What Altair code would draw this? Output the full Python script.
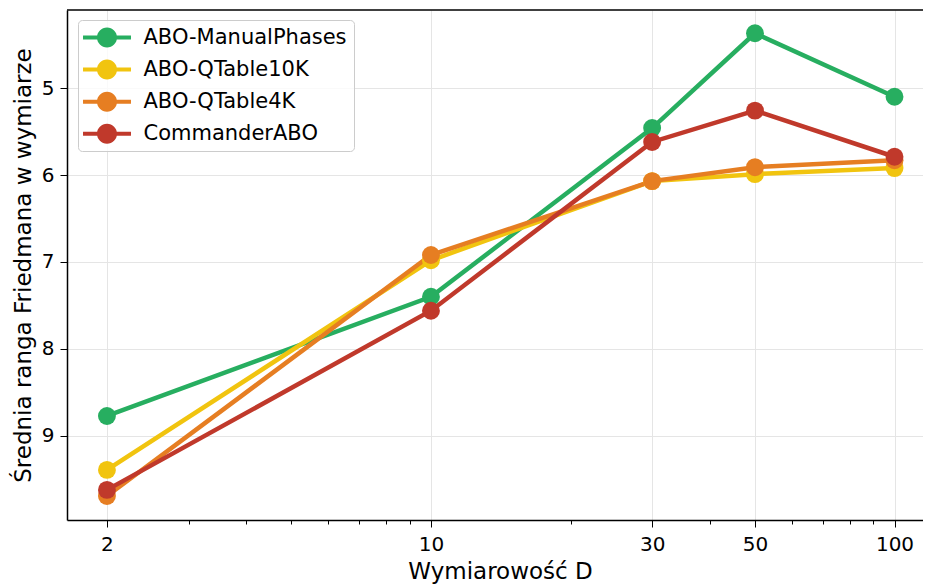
import altair as alt
import pandas as pd

# ---- data ----
dims = [2, 10, 30, 50, 100]
series_names = ["ABO-ManualPhases", "ABO-QTable10K", "ABO-QTable4K", "CommanderABO"]
manual_phases = [8.77, 7.40, 5.46, 4.37, 5.10]
qtable10k = [9.39, 6.98, 6.07, 5.99, 5.92]
qtable4k = [9.69, 6.92, 6.07, 5.91, 5.83]
commander = [9.62, 7.56, 5.62, 5.26, 5.79]
colors = ["#27ae60", "#f1c40f", "#e67e22", "#c0392b"]

x_major = [2, 10, 30, 50, 100]
x_minor = [3, 4, 5, 6, 7, 8, 9, 20, 40, 60, 70, 80, 90]
y_ticks = [5, 6, 7, 8, 9]

values = [manual_phases, qtable10k, qtable4k, commander]
rows = []
for name, vals in zip(series_names, values):
    for d, v in zip(dims, vals):
        rows.append({"series": name, "D": d, "rank": v})
df = pd.DataFrame(rows)

W, H = 856, 510
major_list = "[" + ",".join(str(v) for v in x_major) + "]"
test_minor = f"indexof({major_list}, datum.value) < 0"

xscale = alt.Scale(type="log", domain=[1.64, 115.2], nice=False)
yscale = alt.Scale(domain=[4.103, 9.966], reverse=True, nice=False, zero=False)

legend_path = ("M-2.18,-0.18 L2.18,-0.18 L2.18,0.18 L-2.18,0.18 Z "
               "M0.91,0 A0.91,0.91 0 1,1 -0.91,0 A0.91,0.91 0 1,1 0.91,0 Z")

x_enc = alt.X("D:Q", scale=xscale,
              axis=alt.Axis(
                  values=sorted(x_major + x_minor),
                  title="Wymiarowość D",
                  format="~g",
                  labelExpr=f"indexof({major_list}, datum.value) >= 0 ? datum.label : ''",
                  tickSize={"condition": {"test": test_minor, "value": 4}, "value": 7},
                  gridOpacity={"condition": {"test": test_minor, "value": 0}, "value": 1},
                  labelOverlap=False,
                  labelFlush=False,
                  labelPadding=7,
                  titlePadding=6,
                  titleX=433,
              ))
y_enc = alt.Y("rank:Q", scale=yscale,
              axis=alt.Axis(values=y_ticks, title="Średnia ranga Friedmana w wymiarze",
                            tickSize=7, labelPadding=6, titlePadding=6))

# lines: stroke scale with data-driven (alphabetical) domain -> same colours,
# but a different domain signature so its hidden legend is not merged
lines = alt.Chart(df).mark_line(strokeWidth=4.5).encode(
    x=x_enc, y=y_enc,
    stroke=alt.Stroke("series:N", scale=alt.Scale(range=colors), legend=None),
)

points = alt.Chart(df).mark_circle(size=320, opacity=1).encode(
    x=x_enc, y=y_enc,
    color=alt.Color("series:N",
                    scale=alt.Scale(domain=series_names, range=colors),
                    legend=alt.Legend(
                        title=None,
                        orient="none",
                        legendX=11,
                        legendY=10,
                        symbolType=legend_path,
                        symbolSize=484,
                        symbolStrokeWidth=0,
                        symbolOpacity=1,
                        symbolOffset=11.5,
                        labelOffset=25.5,
                        labelFontSize=21,
                        labelFont="DejaVu Sans",
                        labelColor="black",
                        labelLimit=400,
                        rowPadding=10.1,
                        padding=6.5,
                        fillColor="rgba(255,255,255,0.8)",
                        strokeColor="#cccccc",
                        cornerRadius=4,
                    )),
)

top_spine = alt.Chart(pd.DataFrame({"a": [0]})).mark_rule(
    color="black", strokeWidth=1.5
).encode(x=alt.value(0), x2=alt.value(W), y=alt.value(0))

chart = alt.layer(lines, points, top_spine).properties(
    width=W, height=H,
    autosize=alt.AutoSizeParams(type="none"),
    padding={"left": 59, "top": 2, "right": 0, "bottom": 64},
).configure_view(stroke=None).configure_axis(
    domainColor="black", domainWidth=1.5,
    tickColor="black", tickWidth=1,
    gridColor="#e5e5e5", gridWidth=1,
    labelFont="DejaVu Sans", titleFont="DejaVu Sans",
    labelFontSize=20, titleFontSize=23,
    labelColor="black", titleColor="black",
    titleFontWeight="normal",
)

chart.save("out.html", embed_options={"renderer": "svg", "actions": False})
